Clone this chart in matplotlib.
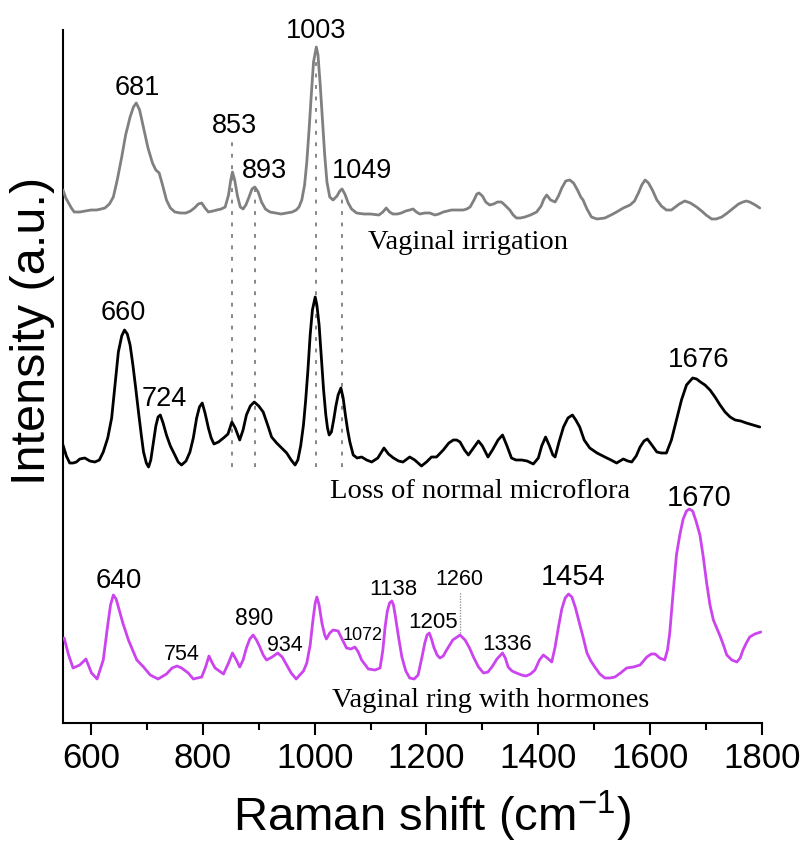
import matplotlib
matplotlib.use("Agg")
import matplotlib.pyplot as plt

plt.rcParams["font.family"] = ["Liberation Sans", "DejaVu Sans"]
plt.rcParams["mathtext.fontset"] = "custom"
plt.rcParams["mathtext.rm"] = "Liberation Sans"
plt.rcParams["mathtext.default"] = "regular"

# ---------------- spectra (Raman shift in cm-1, intensity in a.u.) ----------------
irrigation_x = [550, 555, 560, 565, 570, 580, 590, 600, 610, 618, 625, 633, 640, 647, 655, 662,
                670, 676, 681, 687, 695, 702, 710, 716, 722, 728, 735, 742, 750, 760, 770, 778,
                785, 792, 798, 804, 810, 818, 825, 833, 840, 846, 850, 853, 857, 862, 867, 872,
                877, 882, 888, 893, 899, 905, 912, 920, 930, 940, 950, 960, 967, 972, 977, 982,
                986, 990, 994, 998, 1003, 1006, 1010, 1014, 1018, 1022, 1027, 1033, 1040, 1045,
                1049, 1054, 1060, 1066, 1075, 1088, 1100, 1115, 1122, 1128, 1134, 1140, 1148,
                1155, 1163, 1170, 1176, 1182, 1188, 1197, 1206, 1215, 1222, 1230, 1245, 1255,
                1266, 1272, 1278, 1285, 1290, 1294, 1300, 1306, 1313, 1320, 1327, 1334, 1340,
                1349, 1355, 1361, 1368, 1376, 1386, 1397, 1405, 1410, 1415, 1422, 1430, 1436,
                1442, 1449, 1456, 1463, 1470, 1476, 1480, 1487, 1495, 1505, 1519, 1530, 1540,
                1552, 1564, 1572, 1579, 1585, 1591, 1597, 1604, 1612, 1620, 1629, 1638, 1645,
                1652, 1662, 1672, 1683, 1692, 1700, 1710, 1718, 1728, 1738, 1749, 1758, 1766,
                1772, 1778, 1788, 1796]
irrigation_y = [30, 22, 17, 12, 8, 8, 9, 10, 10, 11, 12, 16, 23, 40, 63, 85,
                103, 113, 117, 110, 90, 72, 57, 50, 47, 35, 20, 12, 8, 7, 7, 9,
                12, 16, 17, 12, 8, 9, 10, 11, 13, 25, 40, 48, 40, 24, 13, 11,
                15, 22, 31, 33, 28, 18, 11, 8, 7, 6, 7, 8, 10, 13, 20, 35,
                58, 90, 125, 158, 173, 165, 135, 100, 65, 38, 23, 20, 24, 29,
                31, 26, 17, 11, 7, 6, 6, 5, 8, 12, 8, 6, 6,
                7, 9, 10, 11, 8, 6, 7, 7, 5, 6, 8, 10, 10,
                10, 11, 13, 20, 26, 27, 24, 18, 15, 16, 18, 18, 15,
                10, 5, 2, 2, 3, 5, 8, 14, 21, 25, 20, 18, 24,
                32, 39, 40, 37, 30, 23, 20, 11, 3, 1, 2, 5, 8,
                12, 15, 19, 27, 35, 40, 37, 30, 20, 14, 10, 10, 13,
                16, 19, 17, 13, 9, 5, 1, 1, 3, 7, 12, 16, 18,
                19, 18, 15, 12]

microflora_x = [550, 556, 562, 568, 574, 580, 589, 598, 607, 615, 622, 630, 637, 643, 649, 655,
                660, 665, 670, 675, 680, 685, 690, 694, 699, 703, 707, 711, 716, 720, 724, 729,
                735, 742, 750, 756, 762, 770, 777, 783, 789, 794, 799, 804, 810, 815, 820, 828,
                837, 845, 852, 858, 866, 872, 878, 885, 892, 900, 908, 916, 923, 932, 941, 950,
                958, 965, 970, 975, 980, 984, 988, 992, 996, 1001, 1004, 1008, 1012, 1016, 1020,
                1023, 1026, 1030, 1034, 1038, 1042, 1047, 1051, 1055, 1059, 1063, 1069, 1076,
                1084, 1093, 1102, 1113, 1124, 1132, 1141, 1150, 1158, 1170, 1179, 1185, 1191,
                1200, 1209, 1218, 1230, 1240, 1248, 1254, 1260, 1268, 1275, 1284, 1293, 1300,
                1310, 1318, 1328, 1336, 1344, 1352, 1360, 1370, 1380, 1391, 1400, 1406, 1413,
                1420, 1426, 1430, 1437, 1445, 1453, 1461, 1467, 1474, 1482, 1492, 1505, 1519,
                1530, 1540, 1546, 1552, 1560, 1567, 1575, 1582, 1589, 1595, 1603, 1612, 1620,
                1629, 1638, 1647, 1656, 1665, 1676, 1683, 1690, 1698, 1707, 1716, 1725, 1734,
                1743, 1752, 1762, 1772, 1784, 1796]
microflora_y = [25, 14, 7, 7, 8, 11, 12, 9, 8, 10, 18, 32, 52, 85, 118, 134,
                140, 136, 125, 105, 82, 58, 35, 18, 7, 3, 10, 25, 44, 53, 55, 47,
                35, 24, 15, 8, 5, 9, 18, 32, 52, 63, 67, 57, 42, 32, 26, 28,
                32, 36, 48, 42, 30, 40, 55, 64, 68, 64, 58, 45, 33, 27, 22, 17,
                10, 5, 10, 24, 45, 70, 100, 135, 160, 173, 165, 145, 112, 80, 55,
                42, 35, 38, 50, 64, 75, 82, 72, 55, 40, 28, 15, 12,
                13, 10, 8, 12, 22, 16, 12, 9, 8, 13, 10, 7, 4,
                8, 13, 13, 20, 27, 30, 30, 28, 20, 15, 22, 29, 24,
                13, 20, 30, 35, 24, 12, 10, 10, 9, 6, 12, 24, 33,
                24, 15, 13, 28, 43, 52, 55, 50, 43, 30, 22, 17, 13,
                10, 7, 9, 11, 9, 8, 14, 23, 29, 31, 25, 18, 17,
                17, 30, 50, 70, 85, 92, 91, 88, 85, 80, 73, 65, 58,
                53, 50, 49, 47, 45, 43]

ring_x = [552, 560, 568, 580, 591, 601, 611, 622, 630, 635, 640, 645, 650, 657, 667, 682,
          694, 706, 720, 735, 745, 754, 762, 774, 783, 798, 805, 811, 816, 822, 837, 846,
          853, 860, 866, 872, 878, 884, 890, 896, 902, 908, 914, 924, 934, 942, 950, 958,
          967, 980, 986, 992, 997, 1001, 1004, 1008, 1013, 1018, 1021, 1027, 1033, 1042,
          1050, 1057, 1065, 1072, 1078, 1084, 1096, 1108, 1117, 1122, 1126, 1130, 1134,
          1138, 1141, 1144, 1150, 1156, 1163, 1170, 1178, 1185, 1192, 1197, 1201, 1205,
          1209, 1213, 1219, 1224, 1230, 1236, 1247, 1260, 1269, 1277, 1284, 1293, 1302,
          1310, 1317, 1326, 1336, 1341, 1346, 1353, 1361, 1370, 1378, 1386, 1394, 1402,
          1409, 1416, 1424, 1430, 1436, 1442, 1448, 1454, 1460, 1466, 1472, 1480, 1487,
          1494, 1501, 1510, 1519, 1528, 1537, 1547, 1558, 1570, 1582, 1588, 1594, 1602,
          1609, 1617, 1626, 1631, 1635, 1641, 1647, 1653, 1659, 1665, 1670, 1676, 1682,
          1689, 1695, 1701, 1707, 1713, 1719, 1725, 1731, 1737, 1746, 1755, 1761, 1766,
          1772, 1778, 1787, 1798]
ring_y = [47, 30, 17, 20, 26, 12, 6, 25, 60, 80, 90, 86, 76, 62, 45, 25,
          18, 10, 6, 11, 17, 19, 17, 12, 6, 8, 18, 29, 23, 17, 11, 22,
          32, 25, 18, 25, 37, 46, 50, 45, 38, 30, 25, 28, 32, 28, 20, 12,
          6, 14, 22, 40, 65, 82, 88, 80, 62, 50, 46, 52, 55, 54,
          45, 37, 36, 38, 33, 25, 16, 15, 17, 35, 58, 74, 82,
          84, 80, 70, 48, 28, 14, 7, 6, 10, 28, 42, 50, 52,
          46, 38, 30, 27, 29, 35, 45, 50, 45, 37, 28, 18, 12,
          13, 18, 26, 32, 27, 18, 14, 12, 10, 9, 11, 15, 25,
          30, 27, 23, 38, 58, 76, 87, 91, 88, 78, 65, 48, 32,
          24, 18, 11, 7, 7, 8, 12, 17, 18, 20, 24, 28, 31,
          31, 27, 25, 35, 52, 92, 130, 150, 166, 174, 176, 174, 164,
          150, 128, 102, 80, 65, 57, 49, 40, 30, 25, 23, 27, 35,
          42, 48, 51, 53]

series_names = ["Vaginal irrigation", "Loss of normal microflora", "Vaginal ring with hormones"]
series_colors = ["#808080", "#000000", "#CC44EE"]
series_offsets = [503, 253, 38]

# peak labels: (text, x, y, fontsize)
peak_labels = [
    ("681", 683, 628, 19.5), ("853", 856, 590, 19.5), ("893", 911, 545, 19.5),
    ("1003", 1002, 685, 19.5), ("1049", 1085, 545, 19.5),
    ("660", 657, 403, 19.5), ("724", 731, 317, 19.5), ("1676", 1687, 356, 20),
    ("640", 650, 135, 20), ("754", 763, 63, 15.5), ("890", 892, 98, 16.5),
    ("934", 947, 72, 15.5), ("1072", 1086, 83, 13), ("1138", 1140, 128, 16),
    ("1205", 1212, 95, 16), ("1260", 1258, 138, 15.5), ("1336", 1344, 73, 16),
    ("1454", 1462, 138, 21), ("1670", 1687, 217, 21),
]
# sample names placed under each spectrum: (x, y)
name_positions = [(1274, 474), (1296, 225), (1315, 16)]
# guide lines shared by the two upper spectra: (x, y_top, y_bottom)
guides = [(853, 585, 256), (893, 536, 256), (1003, 663, 256), (1049, 526, 256)]
xticks_major = [600, 800, 1000, 1200, 1400, 1600, 1800]
xticks_minor = [700, 900, 1100, 1300, 1500, 1700]

fig = plt.figure(figsize=(8.03, 8.44), dpi=100)
ax = fig.add_axes([63 / 803, 121 / 844, 699 / 803, 693 / 844])

for xs, ys, col, off in zip([irrigation_x, microflora_x, ring_x],
                            [irrigation_y, microflora_y, ring_y],
                            series_colors, series_offsets):
    ax.plot(xs, [v + off for v in ys], color=col, lw=2.0,
            solid_joinstyle="round", solid_capstyle="round", zorder=3)

for gx, y0, y1 in guides:
    ax.plot([gx, gx], [y1, y0], color="#666666", lw=1.1,
            linestyle=(0, (2.5, 5)), zorder=2)
ax.plot([1260, 1260], [90, 131], color="#9a9a9a", lw=1.0,
        linestyle=(0, (1, 1)), zorder=2)

for txt, x, y, fs in peak_labels:
    ax.text(x, y, txt, ha="center", va="baseline", fontsize=fs, color="black")

for txt, (x, y) in zip(series_names, name_positions):
    ax.text(x, y, txt, ha="center", va="baseline", fontsize=20.5,
            family=["Liberation Serif", "DejaVu Serif"], color="black")

ax.set_xlim(550, 1800)
ax.set_ylim(0, 693)
ax.set_xticks(xticks_major)
ax.set_xticklabels([str(t) for t in xticks_major])
ax.set_xticks(xticks_minor, minor=True)
ax.set_yticks([])

for side in ("top", "right"):
    ax.spines[side].set_visible(False)
for side in ("left", "bottom"):
    ax.spines[side].set_linewidth(1.5)

ax.tick_params(axis="x", which="major", direction="out", length=8.5, width=1.5,
               labelsize=25, pad=5)
ax.tick_params(axis="x", which="minor", direction="out", length=5, width=1.5)

ax.set_xlabel("Raman shift (cm$^{-1}$)", fontsize=34, va="baseline")
ax.xaxis.set_label_coords(0.528, -0.157)
ax.set_ylabel("Intensity (a.u.)", fontsize=35, va="center")
ax.yaxis.set_label_coords(-0.0438, 0.566)

fig.savefig("out.png", dpi=100)
